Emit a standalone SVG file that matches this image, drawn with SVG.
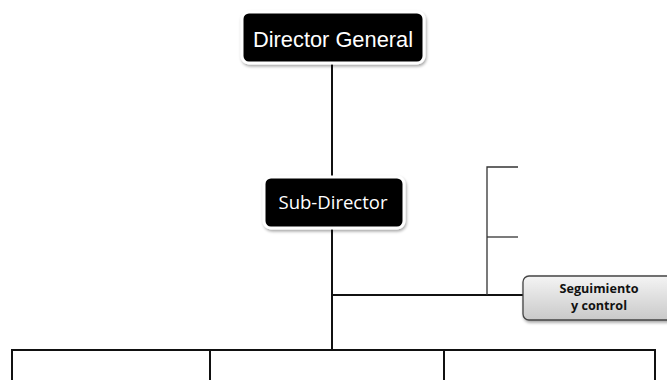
<svg xmlns="http://www.w3.org/2000/svg" width="667" height="380" viewBox="0 0 667 380">
<style>
.box{fill:#000;stroke:#fff;stroke-width:3}
.ttl{fill:#fff;font-family:"Liberation Sans Narrow","Liberation Sans",Arial,sans-serif;text-anchor:middle}
.ln{stroke:#111;stroke-width:2;fill:none}
.thin{stroke:#333;stroke-width:1.3;fill:none}
.seg{font-family:"Open Sans","DejaVu Sans",sans-serif;font-weight:bold;font-size:12.5px;fill:#111;text-anchor:middle}
</style>
<defs>
<filter id="sh" x="-10%" y="-20%" width="120%" height="150%">
<feDropShadow dx="1" dy="2" stdDeviation="1.5" flood-color="#000" flood-opacity="0.35"/>
</filter>
<linearGradient id="gg" x1="0" y1="0" x2="0" y2="1">
<stop offset="0" stop-color="#f4f4f4"/>
<stop offset="1" stop-color="#c9c9c9"/>
</linearGradient>
</defs>
<rect width="667" height="380" fill="#fff"/>
<g id="connectors">
<line class="ln" x1="332" y1="62" x2="332" y2="179"/>
<line class="ln" x1="332" y1="227" x2="332" y2="350"/>
<line class="ln" x1="332" y1="295" x2="524" y2="295"/>
<polyline class="thin" points="518,167 487,167 487,295"/>
<line class="thin" x1="487" y1="237" x2="518" y2="237"/>
<polyline class="ln" points="12,380 12,350 655,350 655,380"/>
<line class="ln" x1="210" y1="350" x2="210" y2="380"/>
<line class="ln" x1="444" y1="350" x2="444" y2="380"/>
</g>
<g id="director-general">
<rect class="box" x="242" y="12" width="182" height="51" rx="7" filter="url(#sh)"/>
<text class="ttl" x="333" y="47" font-size="22" textLength="160" lengthAdjust="spacingAndGlyphs">Director General</text>
</g>
<g id="sub-director">
<rect class="box" x="264" y="177" width="140" height="51" rx="7" filter="url(#sh)"/>
<text class="ttl" x="333" y="209" font-size="18" textLength="109" lengthAdjust="spacingAndGlyphs" style="font-family:'Open Sans','Liberation Sans',sans-serif">Sub-Director</text>
</g>
<g id="seguimiento">
<rect x="523" y="276" width="150" height="44" rx="6" fill="url(#gg)" stroke="#444" stroke-width="1.3" filter="url(#sh)"/>
<text class="seg" x="599" y="293" textLength="79" lengthAdjust="spacingAndGlyphs">Seguimiento</text>
<text class="seg" x="599" y="310" textLength="56" lengthAdjust="spacingAndGlyphs">y control</text>
</g>
</svg>
